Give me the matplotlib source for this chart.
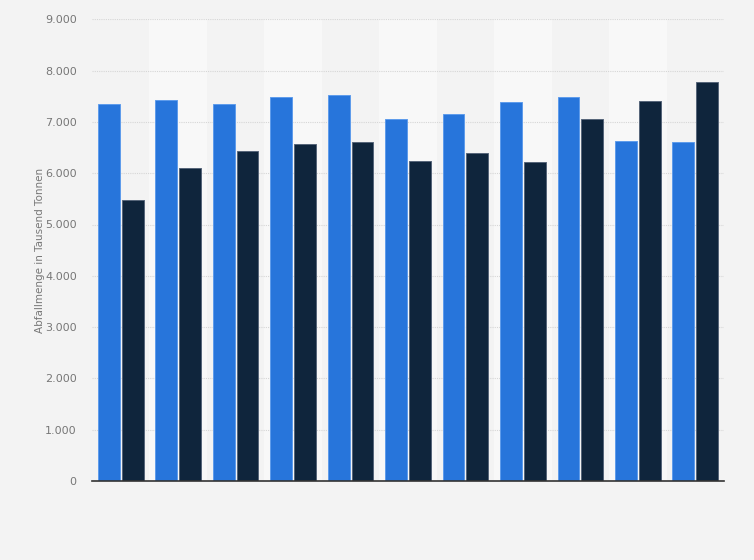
import matplotlib
matplotlib.use("Agg")
import matplotlib.pyplot as plt
import numpy as np
from matplotlib.ticker import FuncFormatter, MultipleLocator

# Werte in Tausend Tonnen
serie_hell = [7340, 7420, 7340, 7480, 7515, 7065, 7145, 7380, 7480, 6620, 6600]
serie_dunkel = [5470, 6110, 6440, 6560, 6600, 6230, 6385, 6210, 7065, 7405, 7775]
y_label = "Abfallmenge in Tausend Tonnen"

BG = "#f3f3f3"
BLUE = "#2775db"
NAVY = "#0f253c"

fig = plt.figure(figsize=(7.54, 5.6), dpi=100, facecolor=BG)
ax = fig.add_axes([92 / 754, 1 - 481 / 560, (724 - 92) / 754, (481 - 19.3) / 560])
ax.set_facecolor(BG)

n = len(serie_hell)
x = np.arange(n)
w = 0.38

# abwechselnde Hintergrundstreifen
for i in range(n):
    if i % 2 == 1:
        ax.axvspan(i - 0.5, i + 0.5, color="#f8f8f8", zorder=0, lw=0)

ax.bar(x - w / 2 - 0.017, serie_hell, width=w, color=BLUE, edgecolor="#5e9cec",
       linewidth=0.7, zorder=3)
ax.bar(x + w / 2 + 0.017, serie_dunkel, width=w, color=NAVY, edgecolor="#56657a",
       linewidth=0.7, zorder=3)

ax.set_xlim(-0.5, n - 0.5)
ax.set_ylim(0, 9000)
ax.yaxis.set_major_locator(MultipleLocator(1000))
ax.yaxis.set_major_formatter(FuncFormatter(lambda v, p: f"{int(v):,}".replace(",", ".")))
ax.grid(axis="y", color="#d6d6d6", linestyle=(0, (1, 1)), linewidth=0.8, zorder=1)
ax.set_xticks([])
ax.tick_params(axis="y", length=0, pad=11, labelsize=8, labelcolor="#777777")

for s in ["top", "right", "left"]:
    ax.spines[s].set_visible(False)
ax.spines["bottom"].set_color("#333333")
ax.spines["bottom"].set_linewidth(1.2)
ax.spines["bottom"].set_zorder(4)

fig.text(40 / 754, 1 - 250 / 560, y_label, rotation=90, ha="center", va="center",
         fontsize=7.5, color="#777777")

fig.savefig("out.png", dpi=100, facecolor=BG)
